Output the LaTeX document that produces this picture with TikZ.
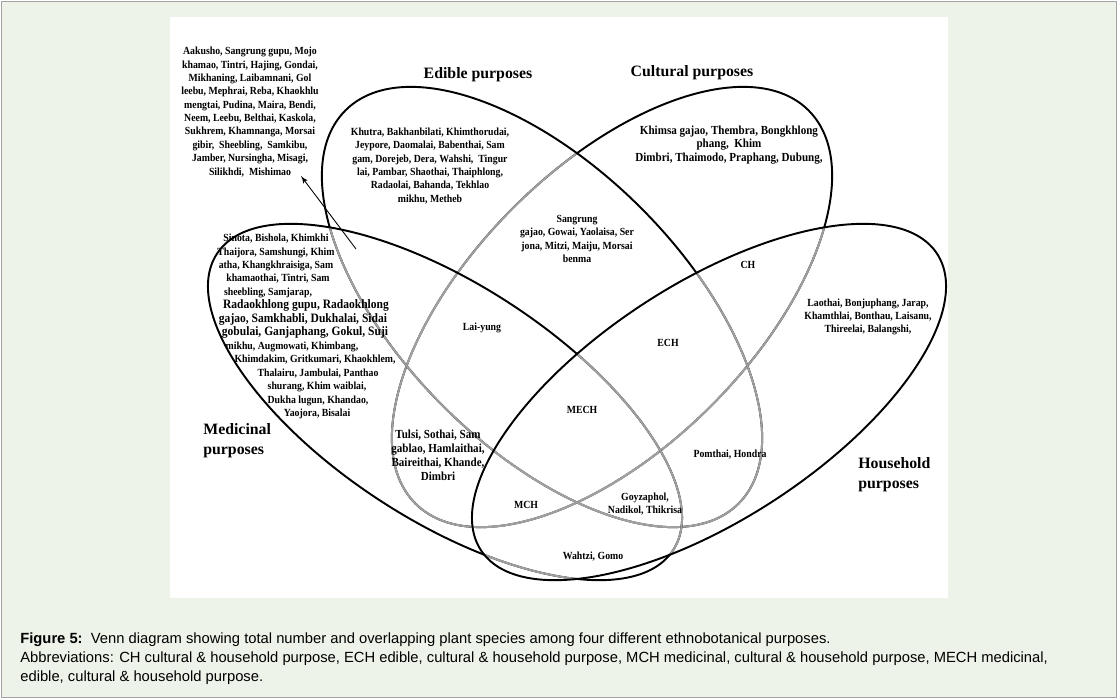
\documentclass[tikz,border=0pt]{standalone}
\usepackage{fontspec}
\setmainfont{Liberation Serif}
\newfontfamily\plantfont[FakeStretch=0.9]{Liberation Serif}
\newfontfamily\captionfont{Liberation Sans}
\usetikzlibrary{arrows}
\usetikzlibrary{positioning}
\definecolor{pagegreen}{HTML}{EEF3E9}
\definecolor{framegray}{HTML}{A3A3A3}
\definecolor{ringgray}{HTML}{A0A0A0}
\tikzset{ring/.style = {line width=1.1pt, black}}
\tikzset{innerring/.style = {line width=1.1pt, ringgray}}
\tikzset{plants/.style = {font=\plantfont\bfseries\fontsize{6.2}{7.6}\selectfont,
                          align=center, inner sep=0}}
\tikzset{bigplants/.style = {plants, font=\plantfont\bfseries\fontsize{7}{7.9}\selectfont}}
\tikzset{plantline/.style = {plants, text height=4.3pt, text depth=1.3pt}}
\tikzset{setname/.style = {font=\bfseries\fontsize{9}{11.3}\selectfont,
                           align=left, inner sep=0}}
\tikzset{captext/.style = {font=\captionfont\fontsize{8.4}{10.8}\selectfont,
                           inner sep=0, anchor=base west}}
\newcommand{\wide}[1]{{\fontsize{7.3}{7.6}\selectfont #1}}

\begin{document}
\begin{tikzpicture}[x=0.02cm, y=-0.02cm]
    \useasboundingbox (0,0) rectangle (1118,699);
    \draw [framegray, fill=pagegreen, line width=0.6pt] (1.5,1.5) rectangle (1116.5,697.5);
    \fill [white] (170,17) rectangle (948,598);

    % centres of the four sets
    \coordinate (cM) at (445,402);
    \coordinate (cE) at (542,307);
    \coordinate (cC) at (612,307);
    \coordinate (cH) at (709,402);
    \def\medring{(cM) circle [x radius=272, y radius=118, rotate=-33]}
    \def\edring{(cE) circle [x radius=278, y radius=140, rotate=-45]}
    \def\cultring{(cC) circle [x radius=278, y radius=140, rotate=45]}
    \def\housering{(cH) circle [x radius=272, y radius=118, rotate=33]}

    % stacked bottom to top: cultural, edible, medicinal, household
    \draw [ring] \cultring;
    \foreach \coverring in {\edring, \medring, \housering} {
        \begin{scope}
            \clip \coverring;
            \draw [innerring] \cultring;
        \end{scope}
    }
    \draw [ring] \edring;
    \foreach \coverring in {\medring, \housering} {
        \begin{scope}
            \clip \coverring;
            \draw [innerring] \edring;
        \end{scope}
    }
    \draw [ring] \medring;
    \begin{scope}
        \clip \housering;
        \draw [innerring] \medring;
    \end{scope}
    \draw [ring] \housering;

    \node [setname] (edible) at (478,75) {Edible purposes};
    \node [setname] (cultural) at (692,73) {Cultural purposes};
    \node [setname, anchor=north west] (medicinal) at (203,423) {Medicinal\\purposes};
    \node [setname, anchor=north west] (household) at (858,457) {Household\\purposes};

    \node [plants] (extra) at (250,112) {Aakusho, Sangrung gupu, Mojo\\
        khamao, Tintri, Hajing, Gondai,\\Mikhaning, Laibamnani, Gol\\
        leebu, Mephrai, Reba, Khaokhlu\\mengtai, Pudina, Maira, Bendi,\\
        Neem, Leebu, Belthai, Kaskola,\\Sukhrem, Khamnanga, Morsai\\
        gibir,\ \ Sheebling,\ \ Samkibu,\\Jamber, Nursingha, Misagi,\\
        Silikhdi,\ \ Mishimao};
    \coordinate (arrowtail) at (356,249);
    \coordinate (arrowtip) at (301,176);
    \draw [-latex', line width=0.5pt] (arrowtail) -- (arrowtip);

    \node [plants] (edonly) at (430,166) {Khutra, Bakhanbilati, Khimthorudai,\\
        Jeypore, Daomalai, Babenthai, Sam\\gam, Dorejeb, Dera, Wahshi,\ \ Tingur\\
        lai, Pambar, Shaothai, Thaiphlong,\\Radaolai, Bahanda, Tekhlao\\mikhu, Metheb};
    \node [bigplants] (cultonly) at (729,145) {Khimsa gajao, Thembra, Bongkhlong\\
        phang,\ \ Khim\\Dimbri, Thaimodo, Praphang, Dubung,};
    \node [plants] (edcult) at (577,239) {Sangrung\\gajao, Gowai, Yaolaisa, Ser\\
        jona, Mitzi, Maiju, Morsai\\benma};
    \node [plants] (houseonly) at (868,317) {Laothai, Bonjuphang, Jarap,\\
        Khamthlai, Bonthau, Laisanu,\\Thireelai, Balangshi,};

    \foreach \x/\t [count=\i from 0] in {276/{Sinota, Bishola, Khimkhi},
            276/{Thaijora, Samshungi, Khim}, 276/{atha, Khangkhraisiga, Sam},
            278/{khamaothai, Tintri, Sam}, 268/{sheebling, Samjarap,},
            306/{\wide{Radaokhlong gupu, Radaokhlong}},
            303/{\wide{gajao, Samkhabli, Dukhalai, Sidai}},
            305/{\wide{gobulai, Ganjaphang, Gokul, Suji}},
            292/{mikhu, Augmowati, Khimbang,},
            315/{Khimdakim, Gritkumari, Khaokhlem,}, 318/{Thalairu, Jambulai, Panthao},
            317/{shurang, Khim waiblai,}, 318/{Dukha lugun, Khandao,},
            317/{Yaojora, Bisalai}}
        \node [plantline] (med\i) at (\x, 239+13.45*\i) {\t};

    \node [plants] (laiyung) at (482,328) {Lai-yung};
    \node [plants] (ech) at (668,343) {ECH};
    \node [plants] (ch) at (748,265) {CH};
    \node [plants] (mech) at (582,410) {MECH};
    \node [plants] (mch) at (526,505) {MCH};
    \node [plants] (pomthai) at (730,455) {Pomthai, Hondra};
    \node [bigplants] (tulsi) at (438,455) {Tulsi, Sothai, Sam\\gablao, Hamlaithai,\\
        Baireithai, Khande,\\Dimbri};
    \node [plants] (goyzaphol) at (645,504) {Goyzaphol,\\Nadikol, Thikrisa};
    \node [plants] (wahtzi) at (593,557) {Wahtzi, Gomo};

    \node [captext] (fig) at (20,643) {\textbf{Figure 5:}\ \ Venn diagram showing total number
        and overlapping plant species among four different ethnobotanical purposes.};
    \node [captext] (abbr) at (20,662) {Abbreviations: CH cultural \& household purpose,
        ECH edible, cultural \& household purpose, MCH medicinal, cultural \& household
        purpose, MECH medicinal,};
    \node [captext] (abbrend) at (20,681) {edible, cultural \& household purpose.};
\end{tikzpicture}
\end{document}
